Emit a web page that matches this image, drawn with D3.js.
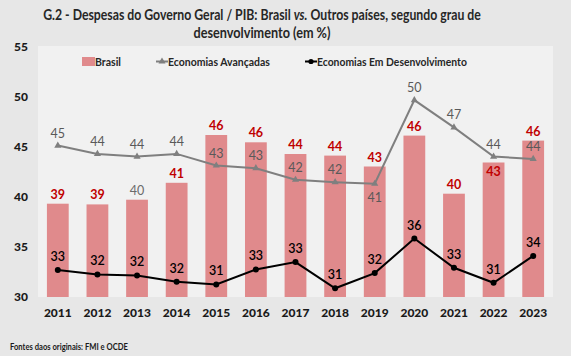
<!DOCTYPE html>
<html><head><meta charset="utf-8">
<script src="https://cdn.jsdelivr.net/npm/d3@7"></script>
<style>
html,body{margin:0;padding:0;background:#e7e7e7;}
svg{display:block;font-family:Lato,"Open Sans",sans-serif;}
</style></head>
<body><svg id="c" width="571" height="356"></svg>
<script>
const years = ["2011","2012","2013","2014","2015","2016","2017","2018","2019","2020","2021","2022","2023"];
const brasil = [39.33,39.26,39.73,41.42,46.2,45.47,44.3,44.14,43.05,46.14,40.33,43.45,45.64];
const brasilLabels = ["39","39","40","41","46","46","44","44","43","46","40","43","46"];
const avancadas = [45.14,44.31,44.04,44.31,43.15,42.88,41.72,41.48,41.32,49.69,46.96,44.04,43.81];
const avancadasLabels = ["45","44","44","44","43","43","42","42","41","50","47","44","44"];
const desenv = [32.69,32.26,32.16,31.52,31.26,32.76,33.49,30.87,32.39,35.85,32.92,31.42,34.11];
const desenvLabels = ["33","32","32","32","31","33","33","31","32","36","33","31","34"];
const yTicks = [30,35,40,45,50,55];
const legendNames = ["Brasil","Economias Avançadas","Economias Em Desenvolvimento"];
const title1 = "G.2 - Despesas do Governo Geral / PIB: Brasil ";
const title1b = "vs.";
const title1c = " Outros países, segundo grau de";
const title2 = "desenvolvimento (em %)";
const source = "Fontes daos originais: FMI e OCDE";

const svg = d3.select("#c");
const L = 38, R = 553, T = 46, B = 297;
const x = d3.scaleBand().domain(years).range([L, R]).paddingInner(0.45).paddingOuter(0.225);
const y = d3.scaleLinear().domain([30, 55]).range([B, 47]);

// horizontally squeeze a text placed inside its own group at (gx, gy)
function squeeze(g, txt, w) {
  const cw = txt.node().getComputedTextLength();
  const k = cw > w ? w / cw : 1;
  g.attr("transform", g.attr("transform") + ` scale(${k.toFixed(4)},1)`);
}

// plot area
svg.append("rect").attr("x", L).attr("y", T).attr("width", R - L).attr("height", B - T).attr("fill", "#f1f1f1");

// title
const tg1 = svg.append("g").attr("transform", "translate(262,20)");
const t = tg1.append("text").attr("text-anchor", "middle")
  .attr("font-weight", "bold").attr("font-size", 15).attr("fill", "#262626");
t.append("tspan").text(title1);
t.append("tspan").attr("font-style", "italic").text(title1b);
t.append("tspan").text(title1c);
squeeze(tg1, t, 438);
const tg2 = svg.append("g").attr("transform", "translate(262,38)");
const t2 = tg2.append("text").attr("text-anchor", "middle")
  .attr("font-weight", "bold").attr("font-size", 15).attr("fill", "#262626").text(title2);
squeeze(tg2, t2, 137);

// y axis
const yAxis = d3.axisLeft(y).tickValues(yTicks).tickSize(0).tickPadding(0);
const gy = svg.append("g").attr("transform", `translate(28,0)`).call(yAxis);
gy.select(".domain").remove();
gy.selectAll("text").attr("font-size", 12).attr("font-weight", "900").attr("fill", "#1a1a1a")
  .attr("font-family", "Lato,sans-serif").attr("text-anchor", "end");

// x axis
const xAxis = d3.axisBottom(x).tickSize(0).tickPadding(0);
const gx = svg.append("g").attr("transform", `translate(0,${B + 11})`).call(xAxis);
gx.select(".domain").remove();
gx.selectAll("text").attr("font-size", 12).attr("font-weight", "900").attr("fill", "#1a1a1a")
  .attr("font-family", "Lato,sans-serif");

// bars
svg.append("g").selectAll("rect").data(years).join("rect")
  .attr("x", d => x(d)).attr("width", x.bandwidth())
  .attr("y", (d, i) => y(brasil[i])).attr("height", (d, i) => B - y(brasil[i]))
  .attr("fill", "#e08a8c");

const cx = d => x(d) + x.bandwidth() / 2;

// lines
const line = arr => d3.line().x(d => cx(d)).y((d, i) => y(arr[i]))(years);
svg.append("path").attr("d", line(avancadas)).attr("fill", "none").attr("stroke", "#7f7f7f").attr("stroke-width", 2);
svg.append("path").attr("d", line(desenv)).attr("fill", "none").attr("stroke", "#000").attr("stroke-width", 2);

const tri = d3.symbol().type(d3.symbolTriangle).size(22);
svg.append("g").selectAll("path").data(years).join("path")
  .attr("d", tri).attr("transform", (d, i) => `translate(${cx(d)},${y(avancadas[i])})`).attr("fill", "#7f7f7f");
svg.append("g").selectAll("circle").data(years).join("circle")
  .attr("cx", cx).attr("cy", (d, i) => y(desenv[i])).attr("r", 3).attr("fill", "#000");

// labels
const lab = (arr, labels, color, offs) => svg.append("g").selectAll("text").data(years).join("text")
  .attr("x", cx).attr("y", (d, i) => y(arr[i]) + offs(i))
  .attr("text-anchor", "middle").attr("font-size", 12.5)
  .attr("fill", (d, i) => typeof color === "function" ? color(i) : color)
  .text((d, i) => labels[i]);

lab(brasil, brasilLabels, i => i === 2 ? "#6b6b6b" : "#c00000", i => i === 11 ? 13 : -5)
  .attr("font-weight", (d, i) => i === 2 ? "normal" : "bold");
lab(avancadas, avancadasLabels, "#595959", i => i === 8 ? 18 : -8);
lab(desenv, desenvLabels, "#000", i => -9).attr("font-weight", "600");

// legend
const lg = svg.append("g").attr("font-size", 12).attr("font-weight", "bold").attr("fill", "#262626");
lg.append("rect").attr("x", 82).attr("y", 57).attr("width", 13).attr("height", 9).attr("fill", "#e08a8c");
const legItem = (xp, name, w) => {
  const g = lg.append("g").attr("transform", `translate(${xp},66)`);
  squeeze(g, g.append("text").text(name), w);
};
legItem(95, legendNames[0], 26);
lg.append("line").attr("x1", 156).attr("x2", 168).attr("y1", 61.5).attr("y2", 61.5).attr("stroke", "#7f7f7f").attr("stroke-width", 2);
lg.append("path").attr("d", tri).attr("transform", "translate(162,61.5)").attr("fill", "#7f7f7f");
legItem(168, legendNames[1], 102);
lg.append("line").attr("x1", 305).attr("x2", 317).attr("y1", 61.5).attr("y2", 61.5).attr("stroke", "#000").attr("stroke-width", 2);
lg.append("circle").attr("cx", 311).attr("cy", 61.5).attr("r", 2.6).attr("fill", "#000");
legItem(317, legendNames[2], 150);

// source
const sg = svg.append("g").attr("transform", "translate(10,350)");
squeeze(sg, sg.append("text").attr("font-size", 9.5).attr("font-weight", "bold")
  .attr("fill", "#1a1a1a").text(source), 118);
</script></body></html>
